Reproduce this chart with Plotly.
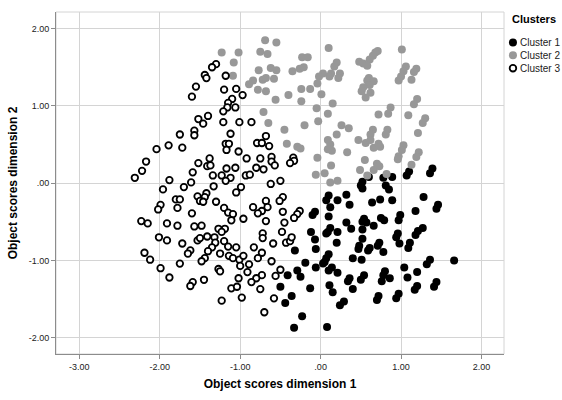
import plotly.graph_objects as go

# Cluster 1 (black filled)
c1_x = [0.60,0.52,0.50,0.52,0.78,0.89,0.81,0.85,1.10,1.07,1.39,1.36,0.64,0.74,0.89,1.28,1.46,1.44,1.18,0.99,0.97,0.54,0.57,0.52,0.66,0.75,0.79,0.52,1.27,1.21,1.18,0.96,
        0.52,0.48,0.47,0.61,0.59,0.73,0.71,0.78,0.94,0.98,1.11,1.09,0.51,1.36,1.32,1.66,1.04,1.20,1.08,0.80,0.78,0.86,0.76,0.54,0.50,1.20,1.17,1.44,1.41,0.97,0.94,0.72,0.70,
        -0.32,-0.07,-0.06,0.20,-0.19,-0.06,0.10,0.07,0.05,0.03,0.14,0.10,0.21,0.40,-0.29,-0.25,-0.41,-0.50,-0.13,0.11,0.15,0.36,0.34,0.40,-0.36,-0.44,0.29,0.24,-0.23,-0.33,0.08,
        0.10,0.07,0.21,0.32,0.36,0.12,-0.07,-0.10,0.10,-0.12,0.09,0.12,0.07,0.21,0.32,0.38]
c1_y = [0.08,0.02,-0.03,-0.07,0.07,0.08,-0.03,-0.08,0.15,0.10,0.19,0.13,-0.25,-0.21,-0.22,-0.18,-0.28,-0.33,-0.36,-0.41,-0.48,-0.46,-0.51,-0.50,-0.55,-0.45,-0.48,-0.60,-0.58,-0.62,-0.67,-0.65,
        -0.72,-0.81,-0.85,-0.84,-0.87,-0.77,-0.81,-0.89,-0.70,-0.78,-0.77,-0.84,-0.99,-0.99,-1.05,-1.00,-1.09,-1.15,-1.22,-1.14,-1.19,-1.23,-1.27,-1.19,-1.25,-1.33,-1.38,-1.28,-1.34,-1.43,-1.49,-1.46,-1.51,
        -0.87,-0.73,-0.85,-0.77,-1.03,-1.09,-0.92,-0.97,-1.02,-1.04,-1.09,-1.13,-1.16,-0.97,-1.13,-1.21,-1.19,-1.34,-1.36,-1.32,-1.41,-1.23,-1.27,-1.37,-1.46,-1.55,-1.53,-1.58,-1.72,-1.87,-1.86,
        -0.16,-0.22,-0.22,-0.15,-0.28,-0.31,-0.37,-0.41,-0.43,-0.63,-0.63,-0.58,-0.65,-0.63,-0.51,-0.59]

# Cluster 2 (grey filled)
c2_x = [-1.23,-1.02,-1.08,-1.09,
        -0.69,-0.55,-0.75,-0.66,0.10,-0.23,-0.16,0.20,0.17,0.48,-0.77,-0.62,-0.55,-0.35,-0.26,-0.21,0.03,-0.02,0.13,0.11,0.24,0.22,-0.84,-0.89,-0.72,-0.68,-0.58,-0.78,-0.68,-0.40,-0.24,-0.13,-0.04,0.01,-0.56,-0.24,0.15,-0.71,-0.65,-0.45,-0.20,-0.05,-0.03,0.09,0.26,0.35,0.20,
        1.01,0.71,0.68,0.65,0.61,0.53,0.58,1.06,1.03,1.19,1.16,1.00,0.97,1.13,0.60,0.58,0.66,0.61,0.53,0.51,0.62,0.56,1.20,1.16,0.87,0.84,0.72,1.09,1.30,1.27,0.65,0.62,0.83,0.81,1.21,
        0.47,0.56,0.62,0.66,0.72,0.74,1.03,1.01,0.97,0.96,1.22,1.19,0.55,0.49,0.66,0.70,0.73,0.82,1.13,0.58,
        -0.42,-0.29,-0.25,-0.04,-0.06,0.05,0.12,0.21,0.13,0.09,0.12,0.09,0.14,0.33]
c2_y = [1.69,1.69,1.56,1.39,
        1.85,1.82,1.70,1.67,1.75,1.63,1.63,1.56,1.51,1.57,1.46,1.49,1.46,1.45,1.48,1.50,1.42,1.38,1.42,1.38,1.42,1.36,1.33,1.28,1.34,1.36,1.35,1.21,1.19,1.14,1.22,1.22,1.29,1.15,1.08,1.06,1.03,0.92,0.78,0.69,0.75,0.97,0.80,0.90,0.75,0.71,0.63,
        1.73,1.71,1.69,1.65,1.60,1.55,1.52,1.51,1.45,1.48,1.44,1.38,1.33,1.34,1.36,1.33,1.32,1.27,1.24,1.19,1.17,1.11,1.09,1.02,0.98,0.90,0.89,0.88,0.84,0.78,0.69,0.63,0.69,0.63,0.65,
        0.56,0.52,0.56,0.46,0.51,0.47,0.49,0.43,0.35,0.31,0.40,0.34,0.30,0.17,0.17,0.25,0.22,0.12,0.24,0.10,
        0.51,0.47,0.45,0.33,0.11,0.13,0.01,0.03,0.23,0.56,0.50,0.44,0.42,0.40]

# Cluster 3 (hollow)
c3_x = [-1.30,-1.35,-1.44,-1.42,-1.18,-1.55,-1.60,-1.20,-1.05,-0.97,-1.10,-1.15,-1.16,-1.06,-1.21,-1.52,-1.40,-1.46,-1.21,-1.01,-1.75,-1.57,-1.57,-1.12,
        -0.86,-0.68,
        -2.04,-1.89,-1.72,-1.18,-1.14,-1.17,-1.02,-2.17,-2.22,-2.31,-1.88,-1.38,-1.52,-1.41,-1.37,-1.59,-1.34,-1.17,-1.06,-1.23,-1.12,-1.18,-1.61,-1.70,-1.33,-1.96,-1.05,-0.99,-1.42,-1.53,-1.44,-1.50,-1.46,-1.80,-1.75,-1.78,-1.99,-2.02,-1.30,-1.20,-1.15,-1.09,-1.11,-1.60,-2.23,-2.15,-1.91,-1.78,-1.57,-1.48,-1.27,-1.19,-1.23,-0.96,
        -2.01,-1.91,-1.72,-1.53,-1.50,-1.41,-1.32,-1.31,-1.35,-1.40,-1.62,-1.65,-1.20,-1.15,-1.05,-1.25,-1.14,-1.09,-1.01,-1.44,-1.48,-2.19,-2.12,-1.99,-1.75,-1.88,-1.27,-1.25,-1.00,-1.02,-1.59,-1.62,-1.45,-1.11,-1.04,-0.98,-1.23,
        -0.79,-0.73,-0.64,-0.92,-0.75,-0.61,-0.61,-0.57,-0.80,-0.71,-0.34,-0.33,-0.38,-0.93,-0.88,-0.62,-0.50,-0.47,-0.51,-0.68,-0.66,-0.84,-0.73,-0.78,-0.47,-0.26,-0.29,-0.33,-0.68,-0.45,-0.48,-0.72,
        -0.72,-0.83,-0.59,-0.43,-0.38,-0.36,-0.96,-0.73,-0.78,-0.61,-0.89,-0.91,-0.50,-0.56,-0.73,-0.80,-0.86,-0.75,-0.58,-0.70]
c3_y = [1.54,1.50,1.40,1.36,1.39,1.25,1.12,1.21,1.22,1.14,1.09,1.04,0.98,0.98,0.93,0.83,0.87,0.77,0.79,0.79,0.63,0.68,0.62,0.64,
        0.79,0.61,
        0.44,0.49,0.46,0.51,0.51,0.43,0.41,0.28,0.16,0.07,0.04,0.32,0.26,0.22,0.23,0.14,0.10,0.19,0.20,0.10,0.07,0.03,0.01,-0.05,-0.04,-0.08,-0.12,-0.05,-0.13,-0.17,-0.18,-0.23,-0.24,-0.21,-0.21,-0.32,-0.28,-0.34,-0.24,-0.32,-0.38,-0.40,-0.48,-0.39,-0.49,-0.52,-0.52,-0.55,-0.56,-0.55,-0.59,-0.59,-0.63,-0.46,
        -0.70,-0.74,-0.78,-0.74,-0.71,-0.69,-0.70,-0.77,-0.83,-0.88,-0.87,-0.91,-0.75,-0.82,-0.83,-0.91,-0.94,-0.97,-0.99,-0.97,-1.01,-0.90,-0.99,-1.10,-1.04,-1.22,-1.11,-1.14,-1.07,-1.23,-1.28,-1.33,-1.25,-1.36,-1.34,-1.48,-1.52,
        0.52,0.52,0.48,0.32,0.32,0.34,0.28,0.23,0.20,0.18,0.33,0.29,0.26,0.10,0.11,-0.01,0.03,-0.18,-0.23,-0.23,-0.31,-0.31,-0.36,-0.39,-0.37,-0.36,-0.40,-0.45,-0.49,-0.51,-0.63,-0.65,
        -0.71,-0.83,-0.78,-0.77,-0.75,-0.70,-0.94,-0.90,-0.97,-1.01,-1.05,-1.15,-1.12,-1.20,-1.19,-1.23,-1.28,-1.37,-1.49,-1.67]

cluster_names = ["Cluster 1", "Cluster 2", "Cluster 3"]
legend_title = "Clusters"
tick_vals = [-3, -2, -1, 0, 1, 2]
x_tick_text = ["-3.00", "-2.00", "-1.00", ".00", "1.00", "2.00"]
y_tick_vals = [-2, -1, 0, 1, 2]
y_tick_text = ["-2.00", "-1.00", ".00", "1.00", "2.00"]

FONT = "Arial, 'Liberation Sans', sans-serif"

styles = [
    dict(fill="#000000", line="#000000", lw=0, size=8),
    dict(fill="#989898", line="#989898", lw=0, size=8),
    dict(fill="#ffffff", line="#000000", lw=1.8, size=6.5),
]

fig = go.Figure()
for name, xs, ys, st in zip(cluster_names, [c1_x, c2_x, c3_x], [c1_y, c2_y, c3_y], styles):
    fig.add_trace(go.Scatter(x=xs, y=ys, mode="markers", name=name, showlegend=False,
                             marker=dict(size=st["size"], color=st["fill"],
                                         line=dict(width=st["lw"], color=st["line"]))))

# Legend drawn as annotations + small circle shapes (compact, like the original)
W_PLOT = 450.0   # plot width in px (562 - 54 - 58)
H_PLOT = 347.0   # plot height in px (400 - 12 - 41)
def px2paper_x(px):
    return (px - 54) / W_PLOT
def px2paper_y(py):
    return (359 - py) / H_PLOT

annotations = [dict(text="<b>" + legend_title + "</b>", xref="paper", yref="paper",
                    x=px2paper_x(510), y=px2paper_y(19), xanchor="left", yanchor="middle",
                    showarrow=False, font=dict(size=11, color="#000000", family=FONT))]
shapes = [dict(type="rect", xref="paper", yref="paper", x0=0, y0=0, x1=1, y1=1,
               line=dict(color="#d4d4d4", width=1), layer="below")]
for i, (name, st) in enumerate(zip(cluster_names, styles)):
    cy = px2paper_y(43 + 13 * i)
    r = 4 if st["lw"] == 0 else 3.3
    shapes.append(dict(type="circle", xref="paper", yref="paper",
                       xsizemode="pixel", ysizemode="pixel",
                       xanchor=px2paper_x(513), yanchor=cy,
                       x0=-r, x1=r, y0=-r, y1=r,
                       fillcolor=st["fill"],
                       line=dict(color=st["line"], width=st["lw"] if st["lw"] else 0)))
    annotations.append(dict(text=name, xref="paper", yref="paper",
                            x=px2paper_x(518), y=cy, xanchor="left", yanchor="middle",
                            showarrow=False, font=dict(size=10, color="#222222", family=FONT)))

fig.update_layout(
    width=562, height=400,
    margin=dict(l=54, r=58, t=12, b=41),
    paper_bgcolor="white", plot_bgcolor="white",
    font=dict(family=FONT, size=9, color="#222222"),
    showlegend=False,
    xaxis=dict(
        range=[-3.29, 2.28], tickmode="array", tickvals=tick_vals, ticktext=x_tick_text,
        showgrid=True, gridcolor="#d4d4d4", gridwidth=1, zeroline=False,
        showline=True, linecolor="#8c8c8c", linewidth=1,
        ticks="outside", ticklen=4, tickcolor="#8c8c8c",
        tickfont=dict(size=9, color="#222222"),
        title=dict(text="<b>Object scores dimension 1</b>", font=dict(size=12, color="#000000"), standoff=8),
    ),
    yaxis=dict(
        range=[-2.21, 2.215], tickmode="array", tickvals=y_tick_vals, ticktext=y_tick_text,
        showgrid=True, gridcolor="#d4d4d4", gridwidth=1, zeroline=False,
        showline=True, linecolor="#8c8c8c", linewidth=1,
        ticks="outside", ticklen=4, tickcolor="#8c8c8c",
        tickfont=dict(size=9, color="#222222"),
        title=dict(text="<b>Object scores dimension 2</b>", font=dict(size=12, color="#000000"), standoff=8),
    ),
    shapes=shapes,
    annotations=annotations,
)

fig.write_html("out.html", config={"displayModeBar": False},
               post_script="document.body.style.margin='0';document.body.style.overflow='hidden';")
